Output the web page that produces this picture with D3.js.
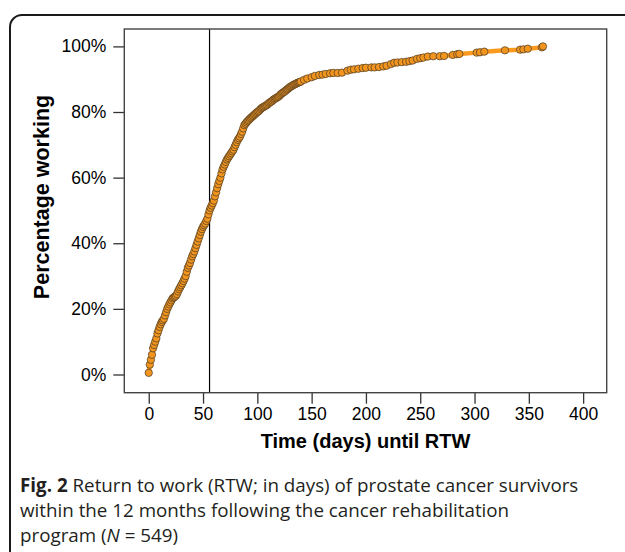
<!DOCTYPE html>
<html><head><meta charset="utf-8">
<script src="https://cdn.jsdelivr.net/npm/d3@7/dist/d3.min.js"></script>
<style>
html,body{margin:0;padding:0;background:#fff;}
svg{display:block;}
</style></head>
<body>
<svg id="chart" width="625" height="552"></svg>
<script>
// ---- data ----
const days = [0,1,2,3,4,5,6,7,8,9,10,11,12,13,14,15,16,17,18,19,20,21,22,23,24,25,26,27,28,29,30,31,32,33,34,35,36,37,38,39,40,41,42,43,44,45,46,47,48,49,50,51,52,53,54,55,56,57,58,59,60,61,62,63,64,65,66,67,68,69,70,71,72,73,74,75,76,77,78,79,80,81,82,83,84,85,86,87,88,89,90,91,92,93,94,95,96,97,98,99,100,101,102,103,104,105,106,107,108,109,110,111,112,113,114,115,116,117,118,119,120,121,122,123,124,125,126,127,128,129,130,131,132,133,134,135,136,137,138,139,140,143,146,150,153,157,160,163,167,170,174,178,183,186,189,193,197,200,205,208,212,216,219,223,226,229,233,237,240,243,247,250,253,257,262,268,272,280,284,286,302,305,309,328,342,345,349,362,363];
const pctWorking = [0.5,3,4.5,6,8,9,10,11,12.5,13.5,14.5,15.3,16,16.5,17,18,19,20,20.7,21.4,22,22.6,23.2,23.5,23.7,24,24.5,25.3,26,26.6,27.2,27.8,28.5,29.2,30,31.3,32.5,33.2,34,35,36,36.7,37.5,38.5,39.5,40.5,41.5,42.5,43.5,44.3,45,45.5,46,46.8,47.5,48.8,50,50.8,51.5,52.2,53,54.3,55.5,56.8,58,59,60,61.3,62.5,63.3,64,64.8,65.5,66,66.5,67,67.5,68,68.5,69.3,70,70.8,71.5,72,72.5,73.3,74,75,76,76.4,76.8,77.2,77.5,77.9,78.2,78.5,78.8,79.1,79.4,79.7,80,80.2,80.5,80.9,81.2,81.4,81.6,81.8,82,82.2,82.5,82.8,83,83.2,83.5,83.8,84,84.2,84.4,84.6,84.8,85.2,85.5,85.8,86,86.2,86.5,86.8,87,87.3,87.6,87.8,88,88.2,88.4,88.5,88.7,88.9,89,89.1,89.3,89.8,90.2,90.6,91,91.3,91.4,91.6,91.8,91.9,91.9,92,92.6,92.9,93,93.2,93.4,93.5,93.6,93.6,93.7,93.9,94.1,94.6,95,95.1,95.2,95.3,95.5,95.7,96.2,96.4,96.6,96.9,97,97,97.1,97.4,97.6,97.7,98.1,98.2,98.4,98.8,99,99.1,99.3,99.7,100];
const xTicks = [0,50,100,150,200,250,300,350,400];
const yTicks = [0,20,40,60,80,100];
const programDay = 56;
const xTitle = "Time (days) until RTW";
const yTitle = "Percentage working";
const captionLines = [
  [["Fig. 2", true], [" Return to work (RTW; in days) of prostate cancer survivors", false]],
  [["within the 12 months following the cancer rehabilitation", false]],
  [["program (", false], ["N", false, true], [" = 549)", false]]
];

const data = days.map((d,i)=>({d, p:pctWorking[i]}));

const svg = d3.select("#chart");

// outer frame
svg.append("rect").attr("x",10).attr("y",15).attr("width",700).attr("height",600)
  .attr("rx",12).attr("fill","none").attr("stroke","#1a1a1a").attr("stroke-width",2);

const L=124.3, R=606.7, T=29, B=392.7;
const x = d3.scaleLinear().domain([-22.5,421.7]).range([L,R]);
const y = d3.scaleLinear().domain([-5.55,105.3]).range([B,T]);

// axes
const font = "'Liberation Sans', Arial, sans-serif";
const xAxis = svg.append("g").attr("transform",`translate(0,${B})`)
  .call(d3.axisBottom(x).tickValues(xTicks).tickSize(11).tickPadding(4).tickFormat(d3.format("d")));
const yAxis = svg.append("g").attr("transform",`translate(${L},0)`)
  .call(d3.axisLeft(y).tickValues(yTicks).tickSize(11).tickPadding(7).tickFormat(d=>d+"%"));
[xAxis,yAxis].forEach(g=>{
  g.select(".domain").remove();
  g.selectAll(".tick line").attr("stroke","#333").attr("stroke-width",1.3);
  g.selectAll(".tick text").attr("fill","#000").style("font-family",font).style("font-size","17.5px");
});

// vertical reference line
svg.append("line").attr("x1",x(programDay)).attr("x2",x(programDay)).attr("y1",T).attr("y2",B)
  .attr("stroke","#000").attr("stroke-width",1.2);

// line
svg.append("path").datum(data)
  .attr("d", d3.line().x(d=>x(d.d)).y(d=>y(d.p)))
  .attr("fill","none").attr("stroke","#fb9a1f").attr("stroke-width",4.5).attr("stroke-linejoin","round");

// points
svg.append("g").selectAll("circle").data(data).join("circle")
  .attr("cx",d=>x(d.d)).attr("cy",d=>y(d.p)).attr("r",3.7)
  .attr("fill","#f2951f").attr("stroke","#4a3a22").attr("stroke-width",0.7);

// box
svg.append("rect").attr("x",L).attr("y",T).attr("width",R-L).attr("height",B-T)
  .attr("fill","none").attr("stroke","#444").attr("stroke-width",1.4);

// titles
svg.append("text").attr("x",(L+R)/2).attr("y",448).attr("text-anchor","middle")
  .style("font-family",font).style("font-weight","bold").style("font-size","20px").text(xTitle);
svg.append("text").attr("transform",`translate(49,197) rotate(-90)`).attr("text-anchor","middle")
  .style("font-family",font).style("font-weight","bold").style("font-size","21.5px").text(yTitle);

// caption
const cap = svg.append("g").style("font-family","'Open Sans', 'Noto Sans', sans-serif").style("font-size","18.8px").attr("fill","#231f20");
captionLines.forEach((line,i)=>{
  const t = cap.append("text").attr("x",20).attr("y",492+i*25);
  line.forEach(([s,b,it])=>{
    const sp = t.append("tspan").text(s);
    if(b) sp.style("font-weight","bold");
    if(it) sp.style("font-style","italic");
  });
});
</script>
</body></html>
